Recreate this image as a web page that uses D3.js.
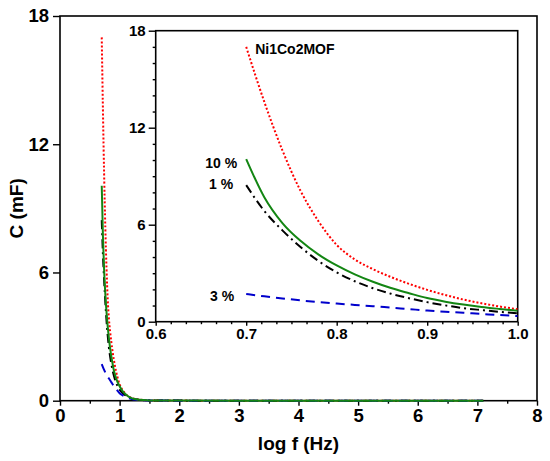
<!DOCTYPE html>
<html><head><meta charset="utf-8">
<script src="https://cdn.jsdelivr.net/npm/d3@7"></script>
<style>
body{margin:0;background:#fff;}
text{font-family:"Liberation Sans",Arial,sans-serif;font-weight:bold;fill:#000;}
</style></head>
<body><svg id="c" width="550" height="461"></svg>
<script>
// ---- data ----
const logF = [0.70,0.72,0.74,0.76,0.78,0.80,0.82,0.84,0.86,0.88,0.90,0.92,0.94,0.96,0.98,1.00,
              1.05,1.10,1.15,1.20,1.30,1.40,1.50,2,3,4,5,6,7,7.1];
const ni1co2 = [17.0,13.6,10.6,8.1,6.2,4.75,3.85,3.25,2.76,2.34,1.97,1.65,1.37,1.14,0.94,0.77,
                0.5,0.32,0.2,0.13,0.06,0.03,0.015,0.005,0,0,0,0,0,0];
const pct10 = [10.06,7.7,6.1,5.0,4.15,3.48,2.93,2.47,2.08,1.76,1.46,1.24,1.06,0.91,0.79,0.68,
               0.45,0.3,0.19,0.12,0.06,0.03,0.015,0.005,0,0,0,0,0,0];
const pct1  = [8.45,6.85,5.65,4.62,3.75,3.05,2.5,2.07,1.73,1.45,1.21,1.01,0.84,0.72,0.61,0.52,
               0.36,0.25,0.17,0.11,0.05,0.025,0.012,0.004,0,0,0,0,0,0];
const pct3  = [1.71,1.57,1.44,1.32,1.21,1.12,1.04,0.96,0.87,0.78,0.69,0.62,0.55,0.48,0.41,0.35,
               0.25,0.18,0.12,0.08,0.04,0.02,0.01,0.003,0,0,0,0,0,0];
const seriesNames = ["Ni1Co2MOF","10 %","1 %","3 %"];
const mainXTicks = [0,1,2,3,4,5,6,7,8];
const mainYTicks = [0,6,12,18];
const insetXTicks = [0.6,0.7,0.8,0.9,1.0];
const insetYTicks = [0,6,12,18];

const series = [
  {name:seriesNames[0], vals:ni1co2, color:"#ff0000", dash:"2,2", w:2},
  {name:seriesNames[2], vals:pct1,  color:"#000000", dash:"9,4,2,4", w:2},
  {name:seriesNames[3], vals:pct3,  color:"#0000cc", dash:"9,6", w:2},
  {name:seriesNames[1], vals:pct10, color:"#138613", dash:null, w:2}
];

const svg = d3.select("#c");

function drawPanel(g, x, y, opts){
  const [x0,x1] = x.range(), [y0,y1] = y.range();
  const id = opts.id;
  svg.append("clipPath").attr("id",id).append("rect")
    .attr("x",x0).attr("y",y1).attr("width",x1-x0).attr("height",y0-y1+opts.clipExtra);
  g.append("rect").attr("x",x0).attr("y",y1).attr("width",x1-x0).attr("height",y0-y1)
    .attr("fill","#fff");
  // axes
  g.append("g").attr("transform",`translate(0,${y0})`)
    .call(d3.axisBottom(x).tickValues(opts.xTicks).tickFormat(opts.xFmt).tickSize(opts.xt).tickPadding(opts.xpad).tickSizeOuter(0));
  g.append("g").attr("transform",`translate(0,${y0})`)
    .call(d3.axisBottom(x).tickValues(opts.xMinor).tickFormat("").tickSize(opts.xmt).tickSizeOuter(0));
  g.append("g").attr("transform",`translate(${x0},0)`)
    .call(d3.axisLeft(y).tickValues(opts.yTicks).tickFormat(d3.format("d")).tickSize(opts.yt).tickPadding(opts.ypad).tickSizeOuter(0));
  if(opts.yMinor){
    g.append("g").attr("transform",`translate(${x0},0)`)
      .call(d3.axisLeft(y).tickValues(opts.yMinor).tickFormat("").tickSize(opts.ymt).tickSizeOuter(0));
  }
  g.selectAll(".domain").remove();
  g.selectAll(".tick line").attr("stroke","#000").attr("stroke-width",1.4);
  g.selectAll(".tick text").style("font-size",opts.fs+"px").style("font-family",'"Liberation Sans",Arial,sans-serif').style("font-weight","bold").attr("fill","#000");
  g.append("rect").attr("x",x0).attr("y",y1).attr("width",x1-x0).attr("height",y0-y1)
    .attr("fill","none").attr("stroke","#000").attr("stroke-width",1.6);
  const lines = g.append("g").attr("clip-path",`url(#${id})`);
  series.forEach(s=>{
    const pts = logF.map((f,i)=>[f,s.vals[i]]).filter(p=>p[0]<=opts.xmax+1e-9);
    lines.append("path").datum(pts)
      .attr("d", d3.line().x(d=>x(d[0])).y(d=>y(d[1])).curve(d3.curveMonotoneX))
      .attr("fill","none").attr("stroke",s.color).attr("stroke-width",s.w)
      .attr("stroke-dasharray",s.dash);
  });
}

// main panel
const mx = d3.scaleLinear().domain([0,8]).range([60,537]);
const my = d3.scaleLinear().domain([0,18]).range([400.7,16]);
const gMain = svg.append("g");
drawPanel(gMain, mx, my, {
  id:"clipMain", xmax:8, xTicks:mainXTicks, xFmt:d3.format("d"), clipExtra:2,
  xMinor:d3.range(0.5,8,1), xt:5, xmt:3, xpad:3,
  yTicks:mainYTicks, yt:7, ypad:4, fs:18.5
});

// inset panel
const ix = d3.scaleLinear().domain([0.6,1.0]).range([155.7,517.7]);
const iy = d3.scaleLinear().domain([0,18]).range([321.7,30.7]);
const gIn = svg.append("g");
const insetMinorX = d3.range(0,25).filter(i=>i%6!==0).map(i=>0.6+i/60);
const insetMinorY = d3.range(0,19).filter(i=>i%6!==0);
drawPanel(gIn, ix, iy, {
  id:"clipIn", xmax:1.0, xTicks:insetXTicks, xFmt:d3.format(".1f"), clipExtra:0,
  xMinor:insetMinorX, xt:4, xmt:2.5, xpad:3,
  yTicks:insetYTicks, yMinor:insetMinorY, yt:7, ymt:3, ypad:3, fs:15
});

// inset labels
const lab = svg.append("g").style("font-size","14px");
lab.append("text").attr("x",ix(0.7)+9).attr("y",iy(17)+7).text(seriesNames[0]);
lab.append("text").attr("x",ix(0.7)-9).attr("y",iy(10.06)+9).attr("text-anchor","end").text(seriesNames[1]);
lab.append("text").attr("x",ix(0.7)-13).attr("y",iy(8.45)+4).attr("text-anchor","end").text(seriesNames[2]);
lab.append("text").attr("x",ix(0.7)-12).attr("y",iy(1.71)+7).attr("text-anchor","end").text(seriesNames[3]);

// axis titles
svg.append("text").attr("x",(60+537)/2).attr("y",450).attr("text-anchor","middle")
  .style("font-size","19px").text("log f (Hz)");
svg.append("text").attr("transform",`translate(23,${(16+400.7)/2}) rotate(-90)`)
  .attr("text-anchor","middle").style("font-size","19px").text("C (mF)");
</script></body></html>
